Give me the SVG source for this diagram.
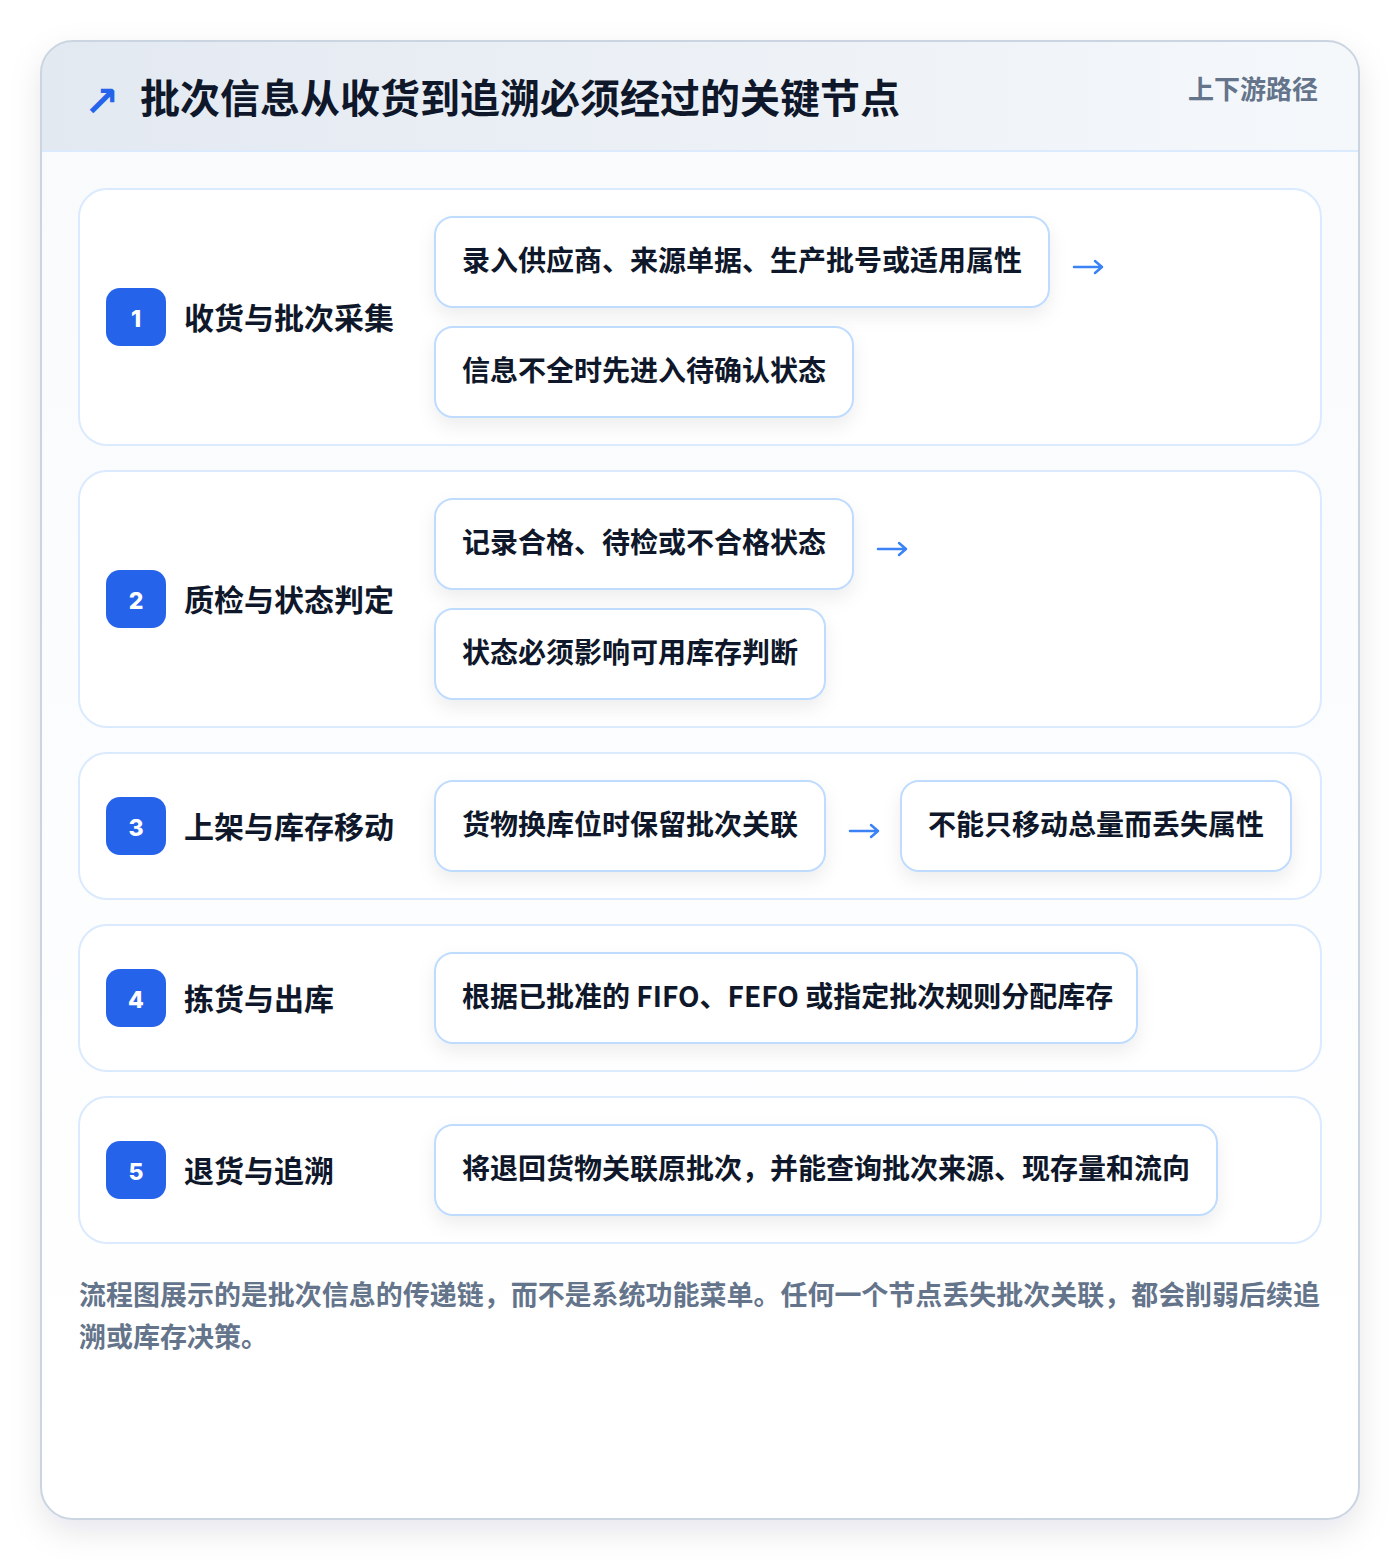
<svg xmlns="http://www.w3.org/2000/svg" width="1400" height="1560" viewBox="0 0 1400 1560">
<defs>
<linearGradient id="hdr" x1="0" y1="0" x2="1" y2="0"><stop offset="0" stop-color="#e3e9f1"/><stop offset="1" stop-color="#f5f8fb"/></linearGradient>
<linearGradient id="body" x1="0" y1="0" x2="0" y2="1"><stop offset="0" stop-color="#f8fafc"/><stop offset="1" stop-color="#ffffff"/></linearGradient>
<filter id="cardSh" x="-10%" y="-10%" width="120%" height="120%"><feDropShadow dx="0" dy="12" stdDeviation="16" flood-color="#0f172a" flood-opacity="0.10"/></filter>
<filter id="boxSh" x="-10%" y="-30%" width="120%" height="170%"><feDropShadow dx="0" dy="8" stdDeviation="9" flood-color="#0f172a" flood-opacity="0.07"/></filter>
<clipPath id="cardClip"><rect x="41" y="41" width="1318" height="1478" rx="32"/></clipPath>
</defs>
<style>
.sec{fill:#ffffff;stroke:#dbeafe;stroke-width:2}
.box{fill:#ffffff;stroke:#bfdbfe;stroke-width:2;filter:url(#boxSh)}
.badge{fill:#2563eb}
.num{font-family:Inter,Roboto,"Liberation Sans",sans-serif;font-weight:800;font-size:23px;fill:#ffffff;text-anchor:middle}
.lbl{font-family:"Noto Sans CJK SC",sans-serif;font-weight:700;font-size:30px;fill:#0f172a}
.bt{font-family:"Noto Sans CJK SC",sans-serif;font-weight:700;font-size:28px;fill:#0f172a}
.arr{fill:none;stroke:#3b82f6;stroke-width:2.5;stroke-linecap:round;stroke-linejoin:round}
.foot{font-family:"Noto Sans CJK SC",sans-serif;font-weight:700;font-size:27px;fill:#64748b}
</style>
<rect width="1400" height="1560" fill="#ffffff"/>
<g id="card">
<rect x="41" y="41" width="1318" height="1478" rx="32" fill="url(#body)" filter="url(#cardSh)"/>
<g clip-path="url(#cardClip)">
<rect x="41" y="41" width="1318" height="110" fill="url(#hdr)"/>
<line x1="41" y1="151" x2="1359" y2="151" stroke="#dbeafe" stroke-width="2"/>
</g>
<rect x="41" y="41" width="1318" height="1478" rx="32" fill="none" stroke="#cbd5e1" stroke-width="2"/>
</g>
<g id="header">
<text x="84" y="116" font-family="'DejaVu Sans',sans-serif" font-size="42" font-weight="700" fill="#2563eb">↗</text>
<text x="140" y="113" font-family="'Noto Sans CJK SC',sans-serif" font-weight="700" font-size="40" fill="#0f172a">批次信息从收货到追溯必须经过的关键节点</text>
<text x="1318" y="99" text-anchor="end" font-family="'Noto Sans CJK SC',sans-serif" font-weight="700" font-size="26" fill="#64748b">上下游路径</text>
</g>
<g id="step1">
<rect class="sec" x="79" y="189" width="1242" height="256" rx="28"/>
<rect class="badge" x="106" y="288" width="60" height="58" rx="14"/>
<text class="num" x="136" y="327">1</text>
<text class="lbl" x="184" y="329">收货与批次采集</text>
<g id="n1a"><rect class="box" x="435" y="217" width="614" height="90" rx="18"/><text class="bt" x="462" y="271">录入供应商、来源单据、生产批号或适用属性</text></g>
<g id="n1b"><rect class="box" x="435" y="327" width="418" height="90" rx="18"/><text class="bt" x="462" y="381">信息不全时先进入待确认状态</text></g>
</g>
<g id="step2">
<rect class="sec" x="79" y="471" width="1242" height="256" rx="28"/>
<rect class="badge" x="106" y="570" width="60" height="58" rx="14"/>
<text class="num" x="136" y="609">2</text>
<text class="lbl" x="184" y="611">质检与状态判定</text>
<g id="n2a"><rect class="box" x="435" y="499" width="418" height="90" rx="18"/><text class="bt" x="462" y="553">记录合格、待检或不合格状态</text></g>
<g id="n2b"><rect class="box" x="435" y="609" width="390" height="90" rx="18"/><text class="bt" x="462" y="663">状态必须影响可用库存判断</text></g>
</g>
<g id="step3">
<rect class="sec" x="79" y="753" width="1242" height="146" rx="28"/>
<rect class="badge" x="106" y="797" width="60" height="58" rx="14"/>
<text class="num" x="136" y="836">3</text>
<text class="lbl" x="184" y="838">上架与库存移动</text>
<g id="n3a"><rect class="box" x="435" y="781" width="390" height="90" rx="18"/><text class="bt" x="462" y="835">货物换库位时保留批次关联</text></g>
<g id="n3b"><rect class="box" x="901" y="781" width="390" height="90" rx="18"/><text class="bt" x="928" y="835">不能只移动总量而丢失属性</text></g>
</g>
<g id="step4">
<rect class="sec" x="79" y="925" width="1242" height="146" rx="28"/>
<rect class="badge" x="106" y="969" width="60" height="58" rx="14"/>
<text class="num" x="136" y="1008">4</text>
<text class="lbl" x="184" y="1010">拣货与出库</text>
<g id="n4a"><rect class="box" x="435" y="953" width="702" height="90" rx="18"/><text class="bt" x="462" y="1007">根据已批准的 FIFO、FEFO 或指定批次规则分配库存</text></g>
</g>
<g id="step5">
<rect class="sec" x="79" y="1097" width="1242" height="146" rx="28"/>
<rect class="badge" x="106" y="1141" width="60" height="58" rx="14"/>
<text class="num" x="136" y="1180">5</text>
<text class="lbl" x="184" y="1182">退货与追溯</text>
<g id="n5a"><rect class="box" x="435" y="1125" width="782" height="90" rx="18"/><text class="bt" x="462" y="1179">将退回货物关联原批次，并能查询批次来源、现存量和流向</text></g>
</g>
<g id="connectors">
<path class="arr" d="M1074 267 H1102 M1095 261 L1102 267 L1095 273"/>
<path class="arr" d="M878 549 H906 M899 543 L906 549 L899 555"/>
<path class="arr" d="M850 831 H878 M871 825 L878 831 L871 837"/>
</g>
<g id="footer">
<text class="foot" x="79" y="1305" textLength="1241" lengthAdjust="spacingAndGlyphs">流程图展示的是批次信息的传递链，而不是系统功能菜单。任何一个节点丢失批次关联，都会削弱后续追</text>
<text class="foot" x="79" y="1347">溯或库存决策。</text>
</g>
</svg>
